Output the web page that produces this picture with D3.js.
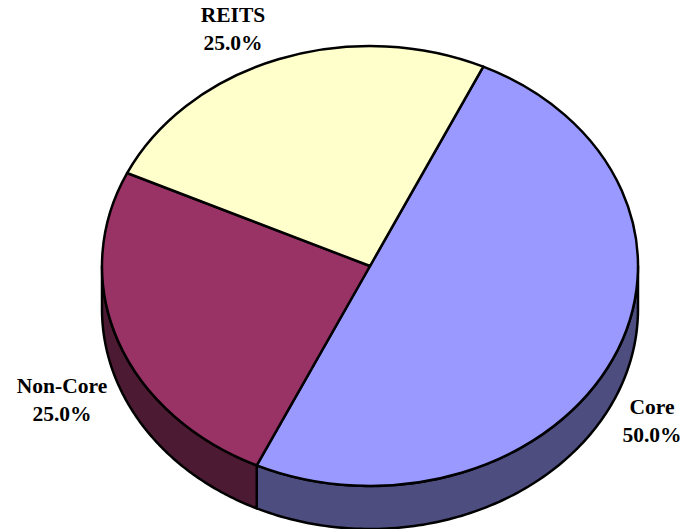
<!DOCTYPE html>
<html><head><meta charset="utf-8">
<script src="https://cdnjs.cloudflare.com/ajax/libs/d3/7.8.5/d3.min.js"></script>
<style>html,body{margin:0;padding:0;background:#fff}svg{display:block}
text{font-family:"Liberation Serif","Times New Roman",serif;font-weight:bold;font-size:21.5px;fill:#000;text-anchor:middle}</style>
</head><body><svg id="c" width="690" height="529"></svg>
<script>
const categories = ["Core", "Non-Core", "REITS"];
const values = [50.0, 25.0, 25.0];
const topColors = ["#9999ff", "#993366", "#ffffcc"];
const sideColors = ["#4d4d80", "#4d1a33"];
const labelPos = [[652, 414], [62, 393], [233, 22]];

const cx = 370, cy = 266, rx = 268, ry = 220, depth = 43, sw = 2.5;
const start = 25 * Math.PI / 180;
const svg = d3.select("#c");
const pie = d3.pie().sort(null).startAngle(start).endAngle(start + 2 * Math.PI);
const arcs = pie(values);
const px = d3.scaleLinear().domain([-1, 1]).range([cx - rx, cx + rx]);
const py = d3.scaleLinear().domain([-1, 1]).range([cy - ry, cy + ry]);

// Side wall: only the front half of the cylinder (PI/2 .. 3PI/2) is visible
function sidePath(a0, a1) {
  const p = d3.path();
  const X = a => px(Math.sin(a)), Y = a => py(-Math.cos(a));
  const n = 120, pts = d3.range(n + 1).map(i => a0 + (a1 - a0) * i / n);
  p.moveTo(X(a0), Y(a0));
  pts.forEach(a => p.lineTo(X(a), Y(a)));
  pts.slice().reverse().forEach(a => p.lineTo(X(a), Y(a) + depth));
  p.closePath();
  return p.toString();
}
arcs.forEach((d, i) => {
  const a0 = Math.max(d.startAngle, Math.PI / 2), a1 = Math.min(d.endAngle, 3 * Math.PI / 2);
  if (a1 > a0) svg.append("path").attr("d", sidePath(a0, a1))
    .attr("fill", sideColors[i]).attr("stroke", "#000").attr("stroke-width", sw).attr("stroke-linejoin", "round");
});

// A large radius keeps the half-circle's endpoints precise after path rounding
const R = 100000;
const arc = d3.arc().innerRadius(0).outerRadius(R);
svg.append("g").attr("transform", `translate(${cx},${cy}) scale(${rx / R},${ry / R})`)
  .selectAll("path").data(arcs).join("path")
  .attr("d", arc)
  .attr("fill", (d, i) => topColors[i])
  .attr("stroke", "#000").attr("stroke-width", sw).attr("stroke-linejoin", "round")
  .attr("vector-effect", "non-scaling-stroke");

categories.forEach((c, i) => {
  const t = svg.append("text").attr("x", labelPos[i][0]).attr("y", labelPos[i][1]);
  t.append("tspan").attr("x", labelPos[i][0]).text(c);
  t.append("tspan").attr("x", labelPos[i][0]).attr("dy", 28).text(values[i].toFixed(1) + "%");
});
</script></body></html>
